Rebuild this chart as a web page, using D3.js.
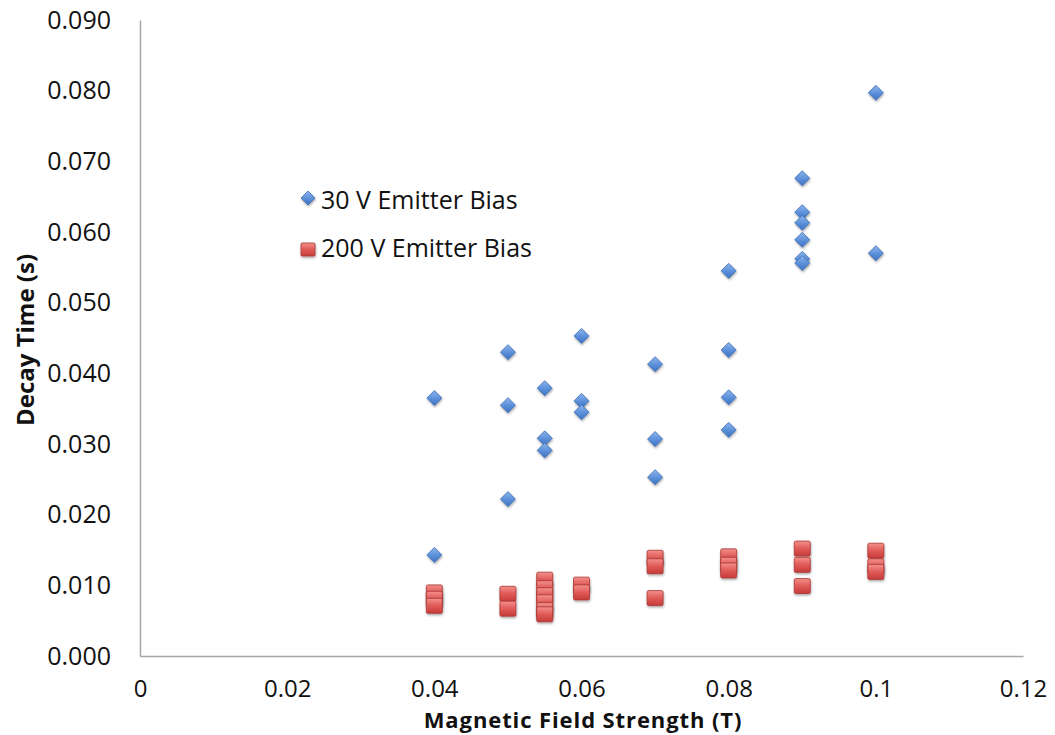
<!DOCTYPE html>
<html>
<head>
<meta charset="utf-8">
<script src="https://cdn.jsdelivr.net/npm/d3@7"></script>
<style>
  html, body { margin: 0; padding: 0; background: #fff; }
  svg { display: block; font-family: "Open Sans", "Liberation Sans", sans-serif; }
</style>
</head>
<body>
<svg id="chart" width="1055" height="735"></svg>
<script>
// Decay time vs. magnetic field strength, two emitter-bias settings
const xTicks = [0, 0.02, 0.04, 0.06, 0.08, 0.1, 0.12];
const xTickLabels = ["0", "0.02", "0.04", "0.06", "0.08", "0.1", "0.12"];
const yTicks = [0, 0.01, 0.02, 0.03, 0.04, 0.05, 0.06, 0.07, 0.08, 0.09];

const seriesNames = ["30 V Emitter Bias", "200 V Emitter Bias"];

// 30 V emitter bias
const field30 = [0.04, 0.04, 0.05, 0.05, 0.05, 0.055, 0.055, 0.055,
  0.06, 0.06, 0.06, 0.07, 0.07, 0.07, 0.08, 0.08, 0.08, 0.08,
  0.09, 0.09, 0.09, 0.09, 0.09, 0.09, 0.1, 0.1];
const decay30 = [0.0365, 0.0143, 0.0430, 0.0355, 0.0222, 0.0379, 0.0308, 0.0291,
  0.0453, 0.0361, 0.0345, 0.0413, 0.0307, 0.0253, 0.0545, 0.0433, 0.0366, 0.0320,
  0.0676, 0.0628, 0.0613, 0.0589, 0.0562, 0.0556, 0.0797, 0.0570];

// 200 V emitter bias
const field200 = [0.04, 0.04, 0.04, 0.05, 0.05,
  0.055, 0.055, 0.055, 0.055, 0.055, 0.055,
  0.06, 0.06, 0.07, 0.07, 0.07, 0.08, 0.08, 0.08,
  0.09, 0.09, 0.09, 0.1, 0.1, 0.1];
const decay200 = [0.0090, 0.0081, 0.0071, 0.0088, 0.0067,
  0.0108, 0.0096, 0.0086, 0.0076, 0.0065, 0.0059,
  0.0101, 0.0090, 0.0139, 0.0127, 0.0082, 0.0141, 0.0129, 0.0121,
  0.0152, 0.0129, 0.0099, 0.0149, 0.0127, 0.0119];

const svg = d3.select("#chart");
const plotLeft = 140, plotRight = 1023, plotTop = 20, plotBottom = 656;

const x = d3.scaleLinear().domain([0, 0.12]).range([plotLeft, plotRight]);
const y = d3.scaleLinear().domain([0, 0.09]).range([plotBottom, plotTop]);

// marker gradients and soft shadow
const defs = svg.append("defs");
const gBlue = defs.append("linearGradient").attr("id", "gBlue")
  .attr("x1", 0).attr("y1", 0).attr("x2", 0).attr("y2", 1);
gBlue.append("stop").attr("offset", "0%").attr("stop-color", "#8db5ec");
gBlue.append("stop").attr("offset", "55%").attr("stop-color", "#5b8fd9");
gBlue.append("stop").attr("offset", "100%").attr("stop-color", "#3f72c2");
const gRed = defs.append("linearGradient").attr("id", "gRed")
  .attr("x1", 0).attr("y1", 0).attr("x2", 0).attr("y2", 1);
gRed.append("stop").attr("offset", "0%").attr("stop-color", "#f3908c");
gRed.append("stop").attr("offset", "50%").attr("stop-color", "#e05a57");
gRed.append("stop").attr("offset", "100%").attr("stop-color", "#c63c3a");
const shadow = defs.append("filter").attr("id", "shadow")
  .attr("x", "-40%").attr("y", "-40%").attr("width", "180%").attr("height", "180%");
shadow.append("feDropShadow").attr("dx", 0.5).attr("dy", 1.5)
  .attr("stdDeviation", 1.2).attr("flood-color", "#000").attr("flood-opacity", 0.35);

// axes
const xAxis = d3.axisBottom(x).tickValues(xTicks)
  .tickFormat((d, i) => xTickLabels[i]).tickSize(0).tickPadding(24);
const yAxis = d3.axisLeft(y).tickValues(yTicks)
  .tickFormat(d3.format(".3f")).tickSize(0).tickPadding(29);

const gx = svg.append("g").attr("transform", `translate(0,${plotBottom})`).call(xAxis);
const gy = svg.append("g").attr("transform", `translate(${plotLeft},0)`).call(yAxis);
[gx, gy].forEach(g => {
  g.select(".domain").attr("stroke", "#a6a6a6").attr("stroke-width", 1.5);
  g.selectAll("text").attr("fill", "#111")
    .attr("font-family", "'Open Sans', sans-serif");
});
gy.selectAll("text").attr("font-size", 25);
gx.selectAll("text").attr("font-size", 24);

// axis titles
svg.append("text")
  .attr("x", 583).attr("y", 728)
  .attr("text-anchor", "middle").attr("font-size", 22).attr("font-weight", "bold")
  .attr("letter-spacing", 0.9)
  .attr("fill", "#111").text("Magnetic Field Strength (T)");
svg.append("text")
  .attr("transform", "translate(34,340) rotate(-90)")
  .attr("text-anchor", "middle").attr("font-size", 24).attr("font-weight", "bold")
  .attr("fill", "#111").text("Decay Time (s)");

const diamond = s => `M0,${-s}L${s},0L0,${s}L${-s},0Z`;

// 30 V series: diamonds
svg.append("g").selectAll("path").data(d3.range(field30.length)).join("path")
  .attr("d", diamond(7.5))
  .attr("transform", i => `translate(${x(field30[i])},${y(decay30[i])})`)
  .attr("fill", "url(#gBlue)").attr("stroke", "#3b6db5").attr("stroke-width", 0.8)
  .attr("filter", "url(#shadow)");

// 200 V series: squares
svg.append("g").selectAll("rect").data(d3.range(field200.length)).join("rect")
  .attr("x", i => x(field200[i]) - 8).attr("y", i => y(decay200[i]) - 7.5)
  .attr("width", 16).attr("height", 15).attr("rx", 1.5)
  .attr("fill", "url(#gRed)").attr("stroke", "#a83634").attr("stroke-width", 0.8)
  .attr("filter", "url(#shadow)");

// legend
const legend = svg.append("g");
legend.append("path").attr("d", diamond(7))
  .attr("transform", "translate(308,198)")
  .attr("fill", "url(#gBlue)").attr("stroke", "#3b6db5").attr("stroke-width", 0.8)
  .attr("filter", "url(#shadow)");
legend.append("rect").attr("x", 301).attr("y", 243).attr("width", 14).attr("height", 13)
  .attr("rx", 1).attr("fill", "url(#gRed)").attr("stroke", "#a83634").attr("stroke-width", 0.8)
  .attr("filter", "url(#shadow)");
legend.selectAll("text").data(seriesNames).join("text")
  .attr("x", 321).attr("y", (d, i) => 200 + i * 47.5).attr("dy", "0.36em")
  .attr("font-size", 25).attr("fill", "#111").text(d => d);
</script>
</body>
</html>
